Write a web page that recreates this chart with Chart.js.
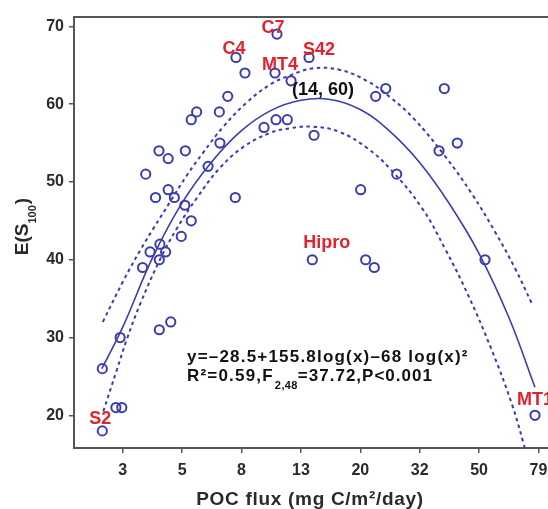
<!DOCTYPE html>
<html><head><meta charset="utf-8">
<script src="https://cdn.jsdelivr.net/npm/chart.js@4.4.1/dist/chart.umd.min.js"></script>
<style>html,body{margin:0;padding:0;background:#fff;overflow:hidden}#wrap{width:548px;height:509px;position:relative}</style>
</head><body><div id="wrap"><canvas id="c" width="548" height="509"></canvas></div>
<script>
// ---- data ----
const xTickValues = [3.162, 5.012, 7.943, 12.59, 19.95, 31.62, 50.12, 79.43];
const xTickLabels = ['3', '5', '8', '13', '20', '32', '50', '79'];
const yTickValues = [20, 30, 40, 50, 60, 70];

const pocFlux = [2.70,2.70,3.00,3.14,3.10,3.69,3.91,4.22,4.20,4.41,4.20,4.59,4.98,5.38,5.12,4.72,4.50,4.08,3.78,4.19,4.50,5.14,6.13,6.72,5.38,5.61,6.69,7.14,7.61,8.16,7.57,9.46,10.38,11.33,10.46,10.30,11.66,13.41,13.94,13.75,20.01,20.80,22.24,22.48,24.30,26.46,36.73,38.27,42.32,52.47,77.3];
const esValues = [26,18,21,21,30,39,41,42,40,41,31,32,43,45,47,48,49,48,51,54,53,54,52,55,58,59,59,61,66,64,48,57,58,58,69,64,63,66,56,40,49,40,39,61,62,51,54,62,55,40,20];

const siteNames = ['S2', 'C4', 'C7', 'MT4', 'S42', 'Hipro', 'MT1'];
const siteIndex = [1, 28, 34, 35, 37, 39, 50];

const fitFlux = [2.69,3.16,3.98,5.01,6.31,7.94,10.0,12.6,15.8,19.95,25.1,31.6,39.8,50.1,63.1,77.3];
const fitES   = [26.0,31.3,40.2,47.3,52.6,56.6,59.2,60.5,60.6,59.3,56.5,52.5,47.2,40.8,32.6,23.6];

const upperFlux = [2.71,3.18,3.62,4.01,4.56,5.19,5.91,6.90,8.27,9.91,11.57,13.87,17.04,20.97,25.12,30.1,38.5,47.33,56.68,66.2,75.36];
const upperES   = [32.0,37.3,41.2,44.0,47.4,50.8,53.8,57.1,60.2,62.5,63.7,64.6,64.4,63.0,60.9,58.2,53.3,48.5,43.6,38.9,34.4];

const lowerFlux = [2.72,3.02,3.26,3.62,4.22,4.81,5.61,6.72,8.06,9.91,11.57,13.87,17.04,20.97,25.12,32.11,38.5,46.1,55.26,64.55,70.6,74.0];
const lowerES   = [20.5,25.8,29.7,34.3,40.0,44.0,47.9,51.8,54.5,56.3,56.9,57.1,56.4,54.4,51.7,46.7,41.4,35.4,28.4,21.5,16.5,13.6];

const peakLabel = {text: '(14, 60)', x: 14, y: 60};
const eqLine1 = 'y=\u201328.5+155.8log(x)\u201368 log(x)\u00B2';
const eqLine2a = 'R\u00B2=0.59,F', eqLine2sub = '2,48', eqLine2b = '=37.72,P<0.001';
const xTitle = 'POC flux (mg C/m\u00B2/day)';
const yTitleMain = 'E(S', yTitleSub = '100', yTitleEnd = ')';

// ---- style ----
const BLUE = '#3a3cb0', RED = '#e5222b', AXIS = '#555555', TXT = '#2a2a2a';
const FONT = '"Liberation Sans", Arial, Helvetica, sans-serif';
const zip = (xs, ys) => xs.map((x, i) => ({x, y: ys[i]}));

const labelStyle = { // offsets relative to the point (text baseline)
  'S2': {dx: -2, dy: -7, align: 'center'},
  'C4': {dx: -2, dy: -3.5, align: 'center'},
  'C7': {dx: -4, dy: -1, align: 'center'},
  'MT4': {dx: 5, dy: -2.6, align: 'center'},
  'S42': {dx: 10, dy: -2.3, align: 'center'},
  'Hipro': {dx: 14.5, dy: -11.4, align: 'center'},
  'MT1': {dx: -18, dy: -10, align: 'left'}
};

const deco = {
  id: 'deco',
  afterDatasetsDraw(chart) {
    const ctx = chart.ctx, xs = chart.scales.x, ys = chart.scales.y, ca = chart.chartArea;
    ctx.save();
    // top frame line
    ctx.strokeStyle = AXIS; ctx.lineWidth = 2;
    ctx.beginPath(); ctx.moveTo(ca.left - 1, ca.top); ctx.lineTo(ca.right + 2, ca.top); ctx.stroke();

    // site labels
    ctx.fillStyle = RED; ctx.font = 'bold 18px ' + FONT; ctx.textBaseline = 'alphabetic';
    siteNames.forEach((n, k) => {
      const i = siteIndex[k], st = labelStyle[n];
      const px = xs.getPixelForValue(pocFlux[i]), py = ys.getPixelForValue(esValues[i]);
      ctx.textAlign = st.align;
      ctx.fillText(n, px + st.dx, py + st.dy);
    });
    // peak label
    ctx.fillStyle = '#111'; ctx.textAlign = 'center';
    ctx.fillText(peakLabel.text, xs.getPixelForValue(peakLabel.x) + 8.5, ys.getPixelForValue(peakLabel.y) - 9.4);

    // equation
    ctx.textAlign = 'left';
    ctx.font = 'bold 17px ' + FONT;
    ctx.letterSpacing = '1.2px';
    ctx.fillText(eqLine1, 187, 361.5);
    let x = 187;
    ctx.fillText(eqLine2a, x, 380.5); x += ctx.measureText(eqLine2a).width;
    ctx.font = 'bold 11px ' + FONT; ctx.letterSpacing = '0.4px';
    ctx.fillText(eqLine2sub, x + 1, 389); x += ctx.measureText(eqLine2sub).width + 1;
    ctx.font = 'bold 17px ' + FONT; ctx.letterSpacing = '1.0px';
    ctx.fillText(eqLine2b, x, 380.5);

    // x title
    ctx.fillStyle = TXT; ctx.font = 'bold 19px ' + FONT; ctx.letterSpacing = '0.7px';
    ctx.textAlign = 'center';
    ctx.fillText(xTitle, 310, 505);
    ctx.letterSpacing = '0px';

    // y title (rotated, with subscript)
    ctx.translate(27.5, 226.5); ctx.rotate(-Math.PI / 2);
    ctx.textAlign = 'left';
    ctx.font = 'bold 19px ' + FONT; const w1 = ctx.measureText(yTitleMain).width, w3 = ctx.measureText(yTitleEnd).width;
    ctx.font = 'bold 11px ' + FONT; const w2 = ctx.measureText(yTitleSub).width;
    let sx = -(w1 + w2 + w3 + 1) / 2;
    ctx.font = 'bold 19px ' + FONT; ctx.fillText(yTitleMain, sx, 0); sx += w1;
    ctx.font = 'bold 11px ' + FONT; ctx.fillText(yTitleSub, sx, 8.5); sx += w2 + 1;
    ctx.font = 'bold 19px ' + FONT; ctx.fillText(yTitleEnd, sx, 0);
    ctx.restore();
  }
};

new Chart(document.getElementById('c'), {
  type: 'scatter',
  data: {
    datasets: [
      {data: zip(pocFlux, esValues), pointStyle: 'circle', pointRadius: 4.6, pointBorderWidth: 2,
       borderColor: BLUE, backgroundColor: 'rgba(0,0,0,0)', showLine: false, pointHoverRadius: 4.6},
      {data: zip(fitFlux, fitES), showLine: true, pointRadius: 0, borderColor: BLUE, borderWidth: 1.6,
       tension: 0.4},
      {data: zip(upperFlux, upperES), showLine: true, pointRadius: 0, borderColor: BLUE, borderWidth: 2,
       borderDash: [3.5, 3.5], tension: 0.4},
      {data: zip(lowerFlux, lowerES), showLine: true, pointRadius: 0, borderColor: BLUE, borderWidth: 2,
       borderDash: [3.5, 3.5], tension: 0.4}
    ]
  },
  options: {
    responsive: false, animation: false, devicePixelRatio: 1,
    layout: {autoPadding: false, padding: {top: 17, right: 0, left: 0, bottom: 0}},
    plugins: {legend: {display: false}, tooltip: {enabled: false}},
    scales: {
      x: {
        type: 'logarithmic', min: 2.168, max: 85.5,
        afterBuildTicks: s => { s.ticks = xTickValues.map(v => ({value: v})); },
        afterFit: s => { s.height = 61; s.paddingLeft = 0; s.paddingRight = 0; },
        ticks: {autoSkip: false, maxRotation: 0, minRotation: 0, padding: 8, color: TXT,
                font: {family: FONT, size: 16, weight: 'bold'},
                callback: (v, i) => xTickLabels[i]},
        grid: {drawOnChartArea: false, drawTicks: true, tickLength: 5, color: AXIS, lineWidth: 1.5},
        border: {display: true, color: AXIS, width: 2}
      },
      y: {
        type: 'linear', min: 15.8, max: 71.2,
        afterBuildTicks: s => { s.ticks = yTickValues.map(v => ({value: v})); },
        afterFit: s => { s.width = 74; s.paddingTop = 0; s.paddingBottom = 0; },
        ticks: {padding: 5, color: TXT, font: {family: FONT, size: 16, weight: 'bold'},
                callback: v => String(v)},
        grid: {drawOnChartArea: false, drawTicks: true, tickLength: 5, color: AXIS, lineWidth: 1.5},
        border: {display: true, color: AXIS, width: 2}
      }
    }
  },
  plugins: [deco]
});
</script>
</body></html>
